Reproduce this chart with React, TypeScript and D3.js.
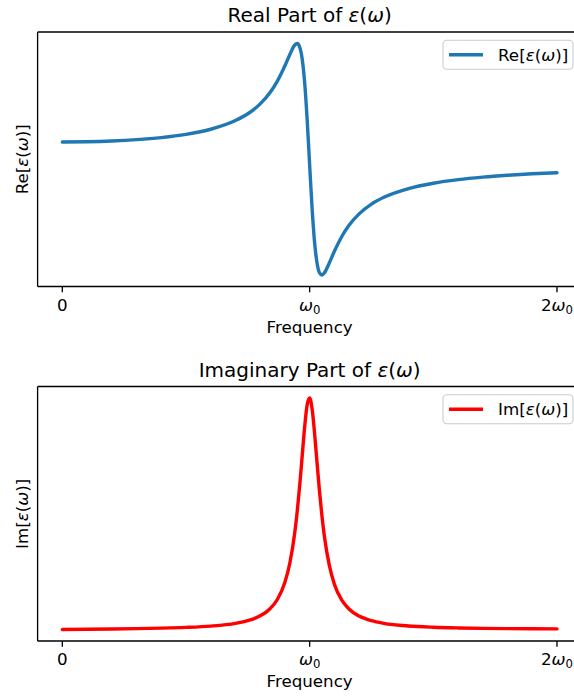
import React from 'react';
import * as d3 from 'd3';

// frequency in units of omega_0
const freq = [
  0, 0.1, 0.2, 0.3, 0.4, 0.5, 0.6, 0.7, 0.75, 0.8, 0.84, 0.87, 0.9, 0.92, 0.94, 0.95,
  0.96, 0.97, 0.98, 0.99, 1.0, 1.01, 1.02, 1.03, 1.04, 1.05, 1.06, 1.08, 1.1, 1.13,
  1.16, 1.2, 1.25, 1.3, 1.4, 1.5, 1.6, 1.7, 1.8, 1.9, 2.0,
];

const reEps = [
  2.0, 2.01, 2.041, 2.098, 2.188, 2.327, 2.549, 2.925, 3.22, 3.647, 4.141, 4.646, 5.299,
  5.792, 6.2, 6.261, 6.103, 5.581, 4.545, 2.952, 1.0, -0.895, -2.357, -3.253, -3.67,
  -3.761, -3.662, -3.228, -2.737, -2.096, -1.601, -1.115, -0.694, -0.4, -0.02, 0.211,
  0.366, 0.475, 0.556, 0.619, 0.668,
];

const imEps = [
  0, 0.0102, 0.0217, 0.0362, 0.0566, 0.0885, 0.1452, 0.2642, 0.3807, 0.5882, 0.8962,
  1.305, 2.036, 2.87, 4.199, 5.127, 6.249, 7.518, 8.772, 9.709, 10.0, 9.524, 8.475,
  7.194, 5.951, 4.877, 3.998, 2.744, 1.957, 1.263, 0.8729, 0.5769, 0.3765, 0.2637,
  0.1487, 0.0946, 0.0651, 0.0472, 0.0356, 0.0277, 0.0221,
];

const xTicks = [0, 1, 2];
const xTickPrefix = ['0', '', '2'];

const W = 574;
const H = 700;
const FONT = 'DejaVu Sans, sans-serif';
const FS = 16.7;

const left = 37.6;
const right = 581.7;

const x = d3.scaleLinear().domain([-0.1, 2.1]).range([left, right]);

function tickLabel(i: number) {
  if (i === 0) return <tspan>0</tspan>;
  return (
    <>
      {xTickPrefix[i] && <tspan>{xTickPrefix[i]}</tspan>}
      <tspan fontStyle="italic">ω</tspan>
      <tspan fontSize={FS * 0.7} dy={3}>0</tspan>
    </>
  );
}

function EpsText({ prefix }: { prefix: string }) {
  return (
    <>
      <tspan>{prefix}[</tspan>
      <tspan fontStyle="italic">ε</tspan>
      <tspan>(</tspan>
      <tspan fontStyle="italic">ω</tspan>
      <tspan>)]</tspan>
    </>
  );
}

function Panel({
  top,
  bottom,
  values,
  color,
  title,
  prefix,
}: {
  top: number;
  bottom: number;
  values: number[];
  color: string;
  title: string;
  prefix: string;
}) {
  const lo = d3.min(values) as number;
  const hi = d3.max(values) as number;
  const pad = (hi - lo) * 0.05;
  const y = d3.scaleLinear().domain([lo - pad, hi + pad]).range([bottom, top]);
  const line = d3
    .line<number>()
    .x((_, i) => x(freq[i]))
    .y((d) => y(d))
    .curve(d3.curveMonotoneX);

  const legX = 443;
  const legY = top + 8.3;
  const legW = 130;
  const legH = 29;

  return (
    <g>
      <text x={(left + right) / 2} y={top - 10} textAnchor="middle" fontSize={20} fontFamily={FONT}>
        {title} of <tspan fontStyle="italic">ε</tspan>(<tspan fontStyle="italic">ω</tspan>)
      </text>
      <path d={line(values) || ''} fill="none" stroke={color} strokeWidth={3.4} strokeLinejoin="round" strokeLinecap="round" />
      {/* spines */}
      <line x1={left} x2={left} y1={top} y2={bottom} stroke="#000" strokeWidth={1.33} />
      <line x1={left} x2={right} y1={top} y2={top} stroke="#000" strokeWidth={1.33} />
      <line x1={left} x2={right} y1={bottom} y2={bottom} stroke="#000" strokeWidth={1.33} />
      <line x1={right} x2={right} y1={top} y2={bottom} stroke="#000" strokeWidth={1.33} />
      {xTicks.map((t, i) => (
        <g key={t}>
          <line x1={x(t)} x2={x(t)} y1={bottom} y2={bottom + 5.8} stroke="#000" strokeWidth={1.33} />
          <text x={x(t)} y={bottom + 24} textAnchor="middle" fontSize={FS} fontFamily={FONT}>
            {tickLabel(i)}
          </text>
        </g>
      ))}
      <text x={(left + right) / 2} y={bottom + 46} textAnchor="middle" fontSize={FS} fontFamily={FONT}>
        Frequency
      </text>
      <text
        transform={`translate(27.5,${(top + bottom) / 2}) rotate(-90)`}
        textAnchor="middle"
        fontSize={FS}
        fontFamily={FONT}
      >
        <EpsText prefix={prefix} />
      </text>
      {/* legend */}
      <rect x={legX} y={legY} width={legW} height={legH} rx={4} fill="#fff" fillOpacity={0.8} stroke="#cccccc" strokeWidth={1.1} />
      <line x1={legX + 6} x2={legX + 40} y1={legY + legH / 2} y2={legY + legH / 2} stroke={color} strokeWidth={3.4} />
      <text x={legX + 55} y={legY + legH / 2 + 6} fontSize={FS} fontFamily={FONT}>
        <EpsText prefix={prefix} />
      </text>
    </g>
  );
}

export default function App() {
  return (
    <svg width={W} height={H} style={{ position: 'absolute', left: 0, top: 0, background: '#fff' }}>
      <rect width={W} height={H} fill="#fff" />
      <Panel top={32} bottom={286.5} values={reEps} color="#1f77b4" title="Real Part" prefix="Re" />
      <Panel top={386.5} bottom={641} values={imEps} color="#ff0000" title="Imaginary Part" prefix="Im" />
    </svg>
  );
}
